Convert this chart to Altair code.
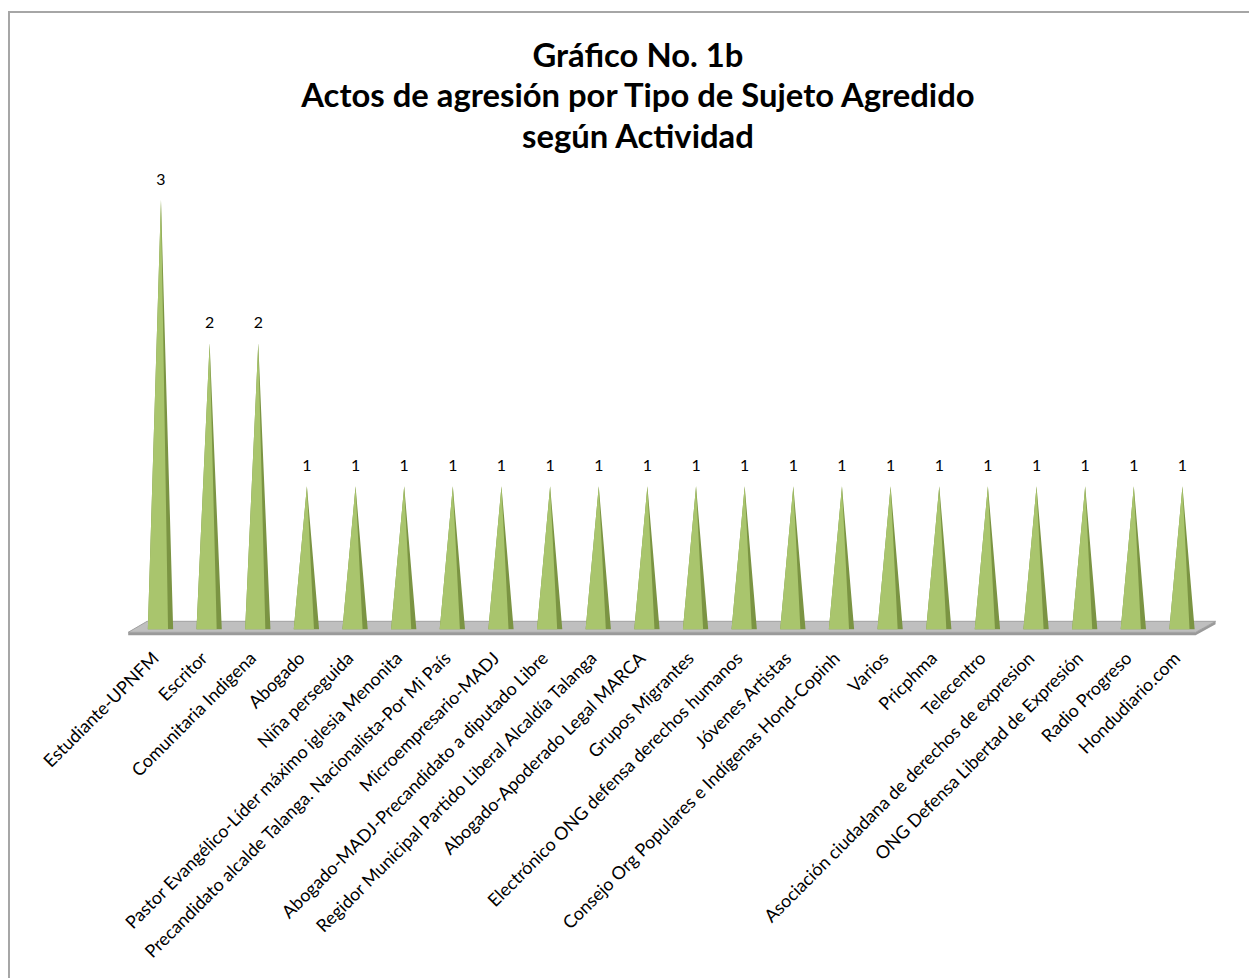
import json
import altair as alt
import pandas as pd

categories = [
    "Estudiante-UPNFM", "Escritor", "Comunitaria Indigena", "Abogado", "Niña perseguida",
    "Pastor Evangélico-Líder máximo iglesia Menonita",
    "Precandidato alcalde Talanga. Nacionalista-Por Mi País",
    "Microempresario-MADJ", "Abogado-MADJ-Precandidato a diputado Libre",
    "Regidor Municipal Partido Liberal Alcaldía Talanga",
    "Abogado-Apoderado Legal MARCA", "Grupos Migrantes",
    "Electrónico ONG  defensa derechos humanos", "Jóvenes Artistas",
    "Consejo Org Populares e Indígenas Hond-Copinh", "Varios", "Pricphma",
    "Telecentro", "Asociación ciudadana de derechos de expresion",
    "ONG  Defensa Libertad de Expresión", "Radio Progreso", "Hondudiario.com",
]
values = [3, 2, 2, 1, 1, 1, 1, 1, 1, 1, 1, 1, 1, 1, 1, 1, 1, 1, 1, 1, 1, 1]

n = len(categories)
FONT = "Lato"

# pyramid faces derived from values
rows = []
for i, v in enumerate(values):
    for face, pts in (
        ("dark", [(i - 0.27, 0), (i, v), (i + 0.25, 0)]),
        ("light", [(i - 0.27, 0), (i, v), (i + 0.145, 0)]),
    ):
        for x, y in pts:
            rows.append({"idx": i, "face": face, "x": x, "y": y})
pyr = pd.DataFrame(rows)

labels_df = pd.DataFrame({"idx": list(range(n)), "v": values})

floor_top = pd.DataFrame({
    "x": [-0.674, -0.286, n - 1 + 0.27, n - 1 + 0.68],
    "y": [-0.021, -0.021, -0.021, 0.056],
    "y2": [-0.021, 0.056, 0.056, 0.056],
})
floor_edge = pd.DataFrame({
    "x": [-0.674, n - 1 + 0.27, n - 1 + 0.68],
    "y": [-0.042, -0.042, 0.035],
    "y2": [-0.021, -0.021, 0.056],
})

xscale = alt.Scale(domain=[-1, n], nice=False, zero=False)
yscale = alt.Scale(domain=[-0.1, 3.3], nice=False, zero=False)

label_expr = json.dumps(categories, ensure_ascii=False) + "[datum.value]"

xaxis = alt.Axis(
    values=list(range(n)), labelExpr=label_expr, labelAngle=-45, labelAlign="right",
    labelBaseline="middle", labelFont=FONT, labelFontSize=18, labelColor="#000000",
    labelPadding=12, labelOffset=-5, domain=False, ticks=False, grid=False, title=None,
    labelOverlap=False, labelLimit=0,
)

base_x = alt.X("x:Q", scale=xscale, axis=xaxis)

edge = alt.Chart(floor_edge).mark_area(color="#9a9a9a").encode(
    x=base_x, y=alt.Y("y:Q", scale=yscale, axis=None), y2="y2:Q"
)
top = alt.Chart(floor_top).mark_area(color="#bfbfbf", stroke="#a0a0a0", strokeWidth=1).encode(
    x=alt.X("x:Q", scale=xscale), y=alt.Y("y:Q", scale=yscale, axis=None), y2="y2:Q"
)

dark = alt.Chart(pyr).transform_filter(alt.datum.face == "dark").mark_area(color="#7b9443").encode(
    x=alt.X("x:Q", scale=xscale), y=alt.Y("y:Q", scale=yscale, axis=None), detail="idx:N"
)
light = alt.Chart(pyr).transform_filter(alt.datum.face == "light").mark_area(color="#a9c56d").encode(
    x=alt.X("x:Q", scale=xscale), y=alt.Y("y:Q", scale=yscale, axis=None), detail="idx:N"
)

txt = alt.Chart(labels_df).mark_text(font=FONT, fontSize=16, dy=-20, color="#000000").encode(
    x=alt.X("idx:Q", scale=xscale), y=alt.Y("v:Q", scale=yscale, axis=None), text="v:Q"
)

border = alt.Chart(pd.DataFrame({"a": [0]})).mark_rect(
    fill=None, stroke="#a6a6a6", strokeWidth=2
).encode(x=alt.value(-104), x2=alt.value(1160), y=alt.value(-146), y2=alt.value(840))

chart = alt.layer(border, edge, top, dark, light, txt).properties(
    width=1125.85,
    height=489.6,
    title=alt.TitleParams(
        ["Gráfico No. 1b", "Actos de agresión por Tipo de Sujeto Agredido", "según Actividad"],
        font=FONT, fontSize=33, fontWeight="bold", color="#000000", anchor="middle",
        lineHeight=41, offset=-145, dx=-34,
    ),
    autosize=alt.AutoSizeParams(type="none"),
    padding={"left": 105, "top": 147, "right": 18, "bottom": 333},
).configure(background="white").configure_view(stroke=None)

chart.save("out.html", embed_options={"renderer": "svg", "actions": False})
